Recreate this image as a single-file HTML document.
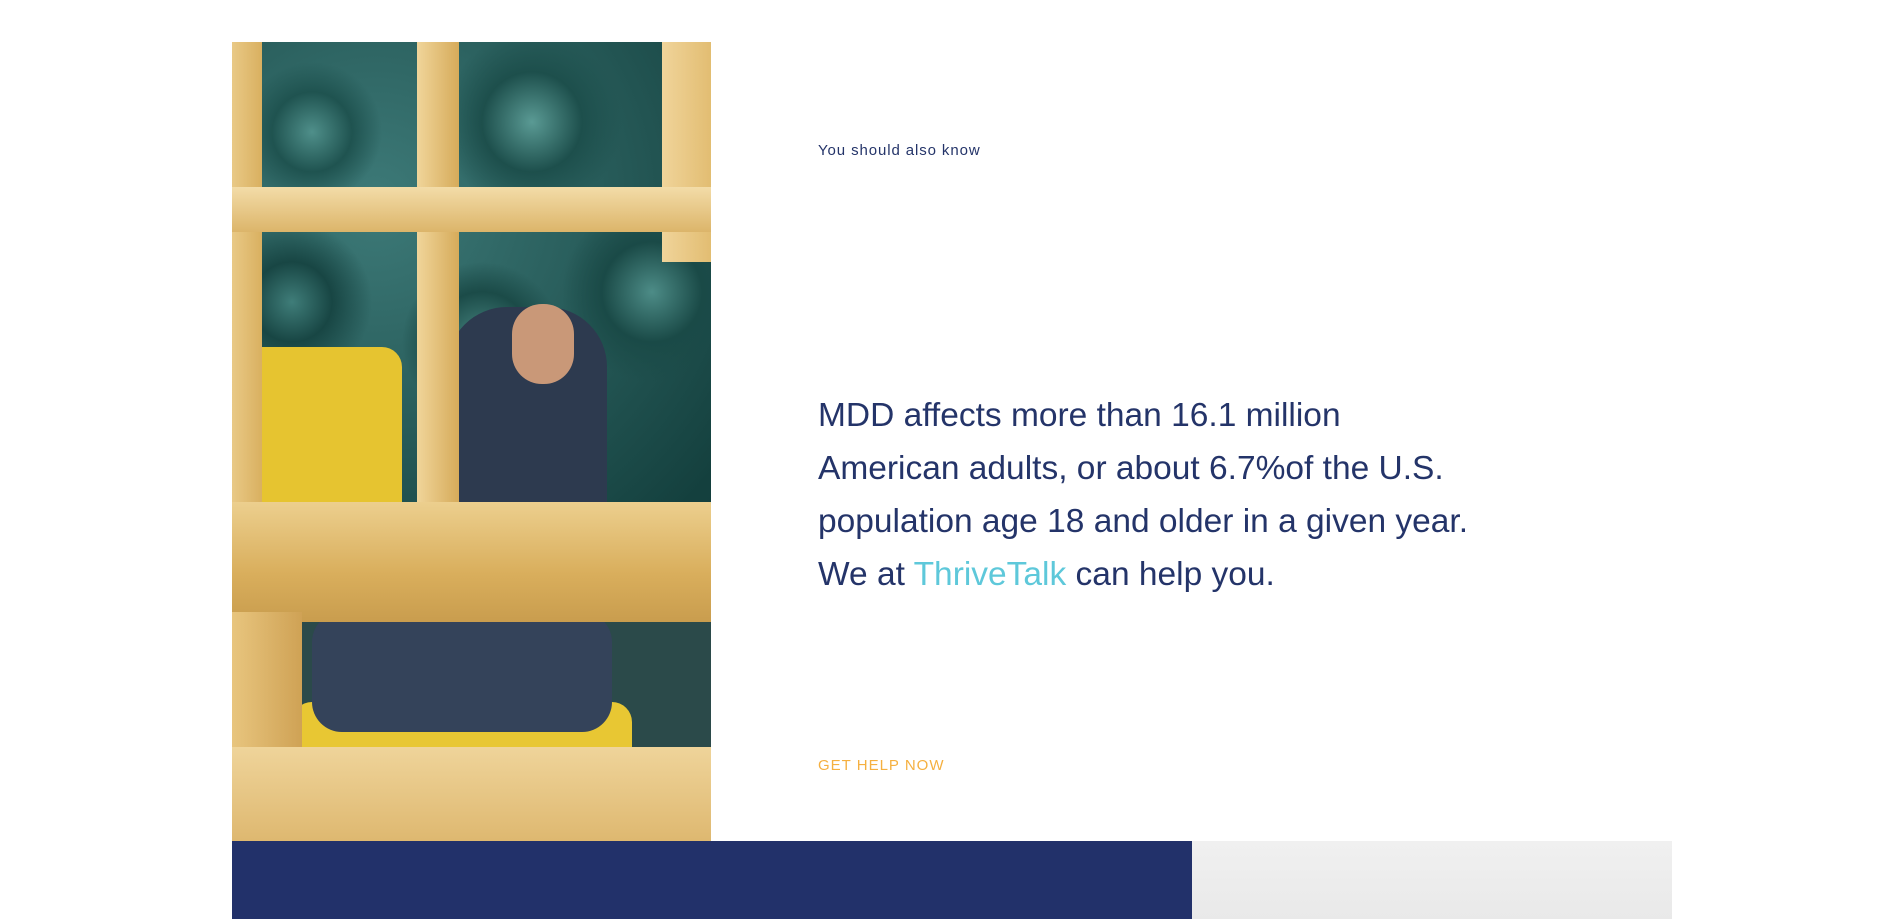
<!DOCTYPE html>
<html><head><meta charset="utf-8"><style>
html,body{margin:0;padding:0;background:#fff;width:1903px;height:919px;overflow:hidden;font-family:"Liberation Sans",sans-serif}
.abs{position:absolute}
</style></head><body>
<div class="abs" style="left:232px;top:42px;width:479px;height:799px;overflow:hidden;background:radial-gradient(circle at 30% 20%,#3d7a78,#14403e 60%,#0f3332)">
  <div class="abs" style="left:0;top:0;width:479px;height:460px;background:radial-gradient(circle at 80px 90px,#4f8f8a 0,#1f5350 40px,transparent 70px),radial-gradient(circle at 300px 80px,#5a9a94 0,#1d4f4c 50px,transparent 90px),radial-gradient(circle at 420px 250px,#4d8c87 0,#1a4a47 50px,transparent 90px),radial-gradient(circle at 60px 260px,#3f7d79 0,#184644 40px,transparent 80px),radial-gradient(circle at 250px 300px,#4a8984 0,#1b4b48 50px,transparent 80px)"></div>
  <div class="abs" style="left:0;top:305px;width:170px;height:200px;background:#e6c430;border-radius:20px"></div>
  <div class="abs" style="left:215px;top:265px;width:160px;height:240px;background:#2d3a4f;border-radius:60px 60px 10px 10px"></div>
  <div class="abs" style="left:280px;top:262px;width:62px;height:80px;background:#c99878;border-radius:30px"></div>
  <div class="abs" style="left:0;top:580px;width:479px;height:219px;background:#2b4a4a"></div>
  <div class="abs" style="left:60px;top:660px;width:340px;height:80px;background:#e8c733;border-radius:20px"></div>
  <div class="abs" style="left:80px;top:570px;width:300px;height:120px;background:#34435a;border-radius:30px"></div>
  <div class="abs" style="left:0;top:0;width:30px;height:799px;background:linear-gradient(90deg,#e9c986,#d9b060)"></div>
  <div class="abs" style="left:185px;top:0;width:42px;height:560px;background:linear-gradient(90deg,#f0d59a,#d6ab5a)"></div>
  <div class="abs" style="left:430px;top:0;width:49px;height:220px;background:linear-gradient(90deg,#f0d49a,#e2bd72)"></div>
  <div class="abs" style="left:0;top:145px;width:479px;height:45px;background:linear-gradient(#f3dca8,#dcb56a)"></div>
  <div class="abs" style="left:0;top:460px;width:479px;height:120px;background:linear-gradient(#eccf8e,#d9ae5c 60%,#c99d4e)"></div>
  <div class="abs" style="left:0;top:570px;width:70px;height:229px;background:linear-gradient(90deg,#e8c57e,#cfa255)"></div>
  <div class="abs" style="left:0;top:705px;width:479px;height:94px;background:linear-gradient(#efd49a,#deb870)"></div>
</div>
<div class="abs" style="left:818px;top:142px;font-size:15px;color:#243469;letter-spacing:0.9px">You should also know</div>
<div class="abs" style="left:818px;top:389px;font-size:33.5px;line-height:53px;color:#243469;width:760px">MDD affects more than 16.1 million<br>American adults, or about 6.7%of the U.S.<br>population age 18 and older in a given year.<br>We at <span style="color:#5ec8da">ThriveTalk</span> can help you.</div>
<a class="abs" style="left:818px;top:757px;font-size:15px;color:#f5b040;letter-spacing:1px;text-decoration:none">GET HELP NOW</a>
<div class="abs" style="left:232px;top:841px;width:960px;height:78px;background:#22316a"></div>
<div class="abs" style="left:1192px;top:841px;width:480px;height:78px;background:linear-gradient(#f0f0f0,#e9e9e9)"></div>
</body></html>
